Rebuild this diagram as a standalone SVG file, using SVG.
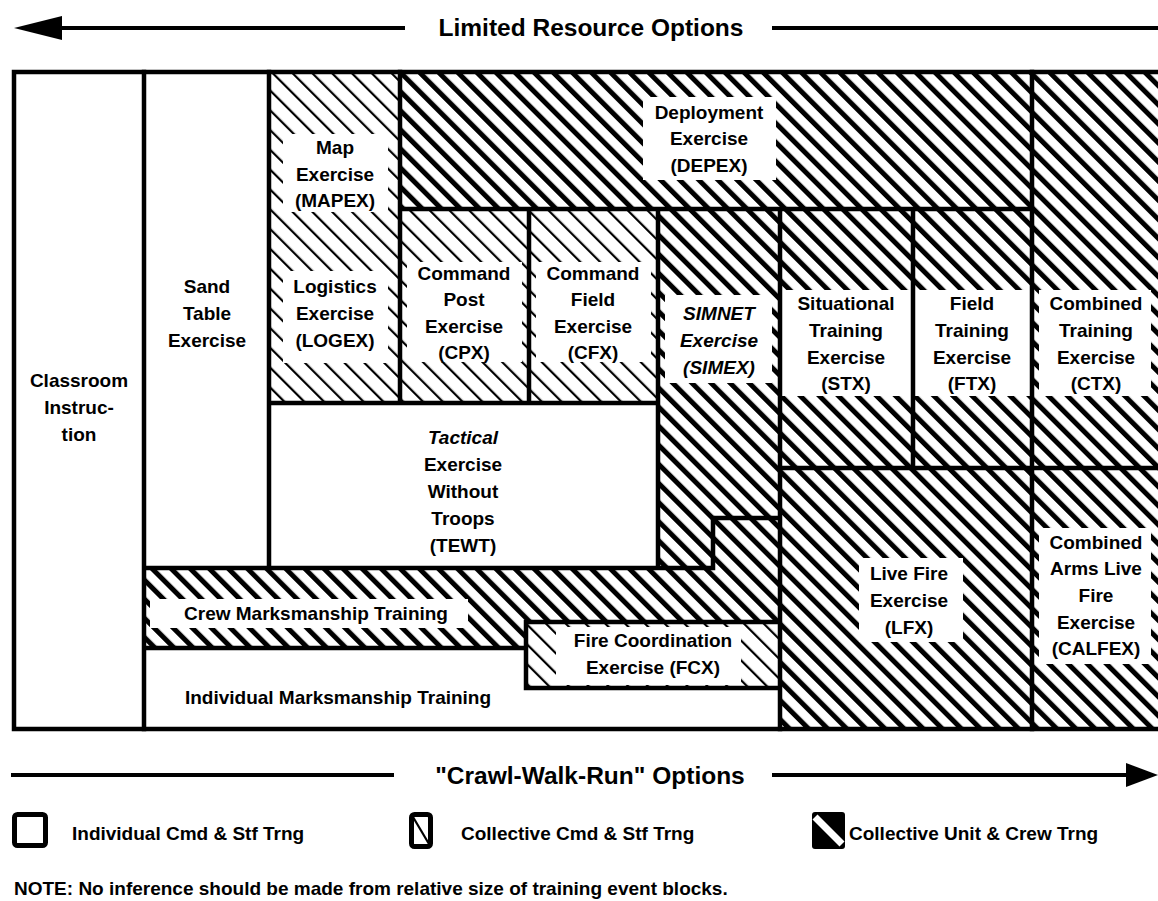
<svg xmlns="http://www.w3.org/2000/svg" width="1158" height="901" viewBox="0 0 1158 901">
<style>
.t{font-family:"Liberation Sans",Arial,sans-serif;font-weight:bold;font-size:19px;text-anchor:middle;fill:#000}
.i{font-style:italic}
.h{font-size:24.5px}
.s{text-anchor:start}
.w{fill:#fff;stroke:none}
.hv{fill:url(#heavy);stroke:none}
.lt{fill:url(#light);stroke:none}
.ln{fill:none;stroke:#000;stroke-width:4.5;stroke-linecap:square}
</style>
<defs>
<pattern id="heavy" patternUnits="userSpaceOnUse" width="13.5" height="13.5" patternTransform="rotate(-45)">
<rect width="13.5" height="13.5" fill="#fff"/>
<rect x="0" y="0" width="5" height="13.5" fill="#000"/>
</pattern>
<pattern id="light" patternUnits="userSpaceOnUse" width="14" height="14" patternTransform="rotate(-45)">
<rect width="14" height="14" fill="#fff"/>
<rect x="0" y="0" width="2.2" height="14" fill="#000"/>
</pattern>
</defs>
<rect width="1158" height="901" fill="#fff"/>

<g id="node-classroom">
<rect class="w" x="14" y="72" width="130" height="657"/>
<text class="t" x="79" y="387">Classroom</text>
<text class="t" x="79" y="414">Instruc-</text>
<text class="t" x="79" y="441">tion</text>
</g>
<g id="node-sandtable">
<rect class="w" x="144" y="72" width="125" height="496"/>
<text class="t" x="207" y="293">Sand</text>
<text class="t" x="207" y="320">Table</text>
<text class="t" x="207" y="347">Exercise</text>
</g>
<g id="node-mapex">
<rect class="lt" x="269" y="72" width="131" height="166"/>
<rect class="w" x="283" y="134" width="105" height="78"/>
<text class="t" x="335" y="154">Map</text>
<text class="t" x="335" y="181">Exercise</text>
<text class="t" x="335" y="207">(MAPEX)</text>
</g>
<g id="node-logex">
<rect class="lt" x="269" y="238" width="131" height="165"/>
<rect class="w" x="283" y="271" width="105" height="92"/>
<text class="t" x="335" y="293">Logistics</text>
<text class="t" x="335" y="320">Exercise</text>
<text class="t" x="335" y="347">(LOGEX)</text>
</g>
<g id="node-depex">
<rect class="hv" x="400" y="72" width="632" height="137"/>
<rect class="w" x="643" y="97" width="133" height="83"/>
<text class="t" x="709" y="119">Deployment</text>
<text class="t" x="709" y="145">Exercise</text>
<text class="t" x="709" y="172">(DEPEX)</text>
</g>
<g id="node-cpx">
<rect class="lt" x="400" y="209" width="129" height="194"/>
<rect class="w" x="407" y="262" width="115" height="100"/>
<text class="t" x="464" y="280">Command</text>
<text class="t" x="464" y="306">Post</text>
<text class="t" x="464" y="333">Exercise</text>
<text class="t" x="464" y="359">(CPX)</text>
</g>
<g id="node-cfx">
<rect class="lt" x="529" y="209" width="129" height="194"/>
<rect class="w" x="536" y="262" width="115" height="100"/>
<text class="t" x="593" y="280">Command</text>
<text class="t" x="593" y="306">Field</text>
<text class="t" x="593" y="333">Exercise</text>
<text class="t" x="593" y="359">(CFX)</text>
</g>
<g id="node-simex">
<polygon class="hv" points="658,209 780,209 780,518 713,518 713,568 658,568"/>
<rect class="w" x="665" y="295" width="107" height="88"/>
<text class="t i" x="719" y="320">SIMNET</text>
<text class="t i" x="719" y="347">Exercise</text>
<text class="t i" x="719" y="374">(SIMEX)</text>
</g>
<g id="node-stx">
<rect class="hv" x="780" y="209" width="133" height="259"/>
<rect class="w" x="782" y="290" width="129" height="106"/>
<text class="t" x="846" y="310">Situational</text>
<text class="t" x="846" y="337">Training</text>
<text class="t" x="846" y="364">Exercise</text>
<text class="t" x="846" y="390">(STX)</text>
</g>
<g id="node-ftx">
<rect class="hv" x="913" y="209" width="119" height="259"/>
<rect class="w" x="915" y="290" width="115" height="106"/>
<text class="t" x="972" y="310">Field</text>
<text class="t" x="972" y="337">Training</text>
<text class="t" x="972" y="364">Exercise</text>
<text class="t" x="972" y="390">(FTX)</text>
</g>
<g id="node-ctx">
<rect class="hv" x="1032" y="72" width="126" height="396"/>
<rect class="w" x="1039" y="290" width="112" height="106"/>
<text class="t" x="1096" y="310">Combined</text>
<text class="t" x="1096" y="337">Training</text>
<text class="t" x="1096" y="364">Exercise</text>
<text class="t" x="1096" y="390">(CTX)</text>
</g>
<g id="node-tewt">
<rect class="w" x="269" y="403" width="389" height="165"/>
<text class="t i" x="463" y="444">Tactical</text>
<text class="t" x="463" y="471">Exercise</text>
<text class="t" x="463" y="498">Without</text>
<text class="t" x="463" y="525">Troops</text>
<text class="t" x="463" y="552">(TEWT)</text>
</g>
<g id="node-crew">
<polygon class="hv" points="144,568 713,568 713,518 780,518 780,622 526,622 526,648 144,648"/>
<rect class="w" x="150" y="599" width="318" height="29"/>
<text class="t" x="316" y="620">Crew Marksmanship Training</text>
</g>
<g id="node-fcx">
<rect class="lt" x="526" y="622" width="254" height="66"/>
<rect class="w" x="556" y="627" width="185" height="58"/>
<text class="t" x="653" y="647">Fire Coordination</text>
<text class="t" x="653" y="674">Exercise (FCX)</text>
</g>
<g id="node-individual">
<polygon class="w" points="144,648 526,648 526,688 780,688 780,729 144,729"/>
<text class="t" x="338" y="704">Individual Marksmanship Training</text>
</g>
<g id="node-lfx">
<rect class="hv" x="780" y="468" width="252" height="261"/>
<rect class="w" x="859" y="558" width="104" height="84"/>
<text class="t" x="909" y="580">Live Fire</text>
<text class="t" x="909" y="607">Exercise</text>
<text class="t" x="909" y="634">(LFX)</text>
</g>
<g id="node-calfex">
<rect class="hv" x="1032" y="468" width="126" height="261"/>
<rect class="w" x="1039" y="528" width="112" height="136"/>
<text class="t" x="1096" y="549">Combined</text>
<text class="t" x="1096" y="575">Arms Live</text>
<text class="t" x="1096" y="602">Fire</text>
<text class="t" x="1096" y="629">Exercise</text>
<text class="t" x="1096" y="655">(CALFEX)</text>
</g>

<g id="frame">
<path class="ln" d="M1158,72 H14 V729 H1158" stroke-width="5"/>
<path class="ln" d="M144,72 V729 M269,72 V568 M400,72 V403 M400,209 H1032 M529,209 V403 M269,403 H658 M658,209 V568 M780,209 V729 M913,209 V468 M1032,72 V729 M780,468 H1158 M144,568 H713 V518 H780 M144,648 H526 M526,622 V688 H780 M526,622 H780"/>
</g>

<g id="connectors">
<line x1="58" y1="28" x2="405" y2="28" stroke="#000" stroke-width="4"/>
<polygon points="14,28 62,16 62,40" fill="#000"/>
<line x1="772" y1="28" x2="1158" y2="28" stroke="#000" stroke-width="4"/>
<line x1="11" y1="775" x2="394" y2="775" stroke="#000" stroke-width="4"/>
<line x1="772" y1="775" x2="1130" y2="775" stroke="#000" stroke-width="4"/>
<polygon points="1158,775 1126,763 1126,787" fill="#000"/>
</g>
<text class="t h" x="591" y="36">Limited Resource Options</text>
<text class="t h" x="590" y="784">"Crawl-Walk-Run" Options</text>

<g id="legend">
<rect x="14.5" y="814.5" width="31" height="31" rx="3" fill="#fff" stroke="#000" stroke-width="5"/>
<text class="t s" x="72" y="840">Individual Cmd &amp; Stf Trng</text>
<rect x="411.5" y="814.5" width="19" height="32" rx="3" fill="#fff" stroke="#000" stroke-width="5"/>
<line x1="413" y1="817" x2="429" y2="844" stroke="#000" stroke-width="2.2"/>
<text class="t s" x="461" y="840">Collective Cmd &amp; Stf Trng</text>
<rect x="812" y="812" width="33" height="37" rx="3" fill="#000"/>
<line x1="815" y1="817" x2="842" y2="844" stroke="#fff" stroke-width="7"/>
<text class="t s" x="849" y="840">Collective Unit &amp; Crew Trng</text>
</g>
<text class="t s" x="14" y="895">NOTE: No inference should be made from relative size of training event blocks.</text>
</svg>
